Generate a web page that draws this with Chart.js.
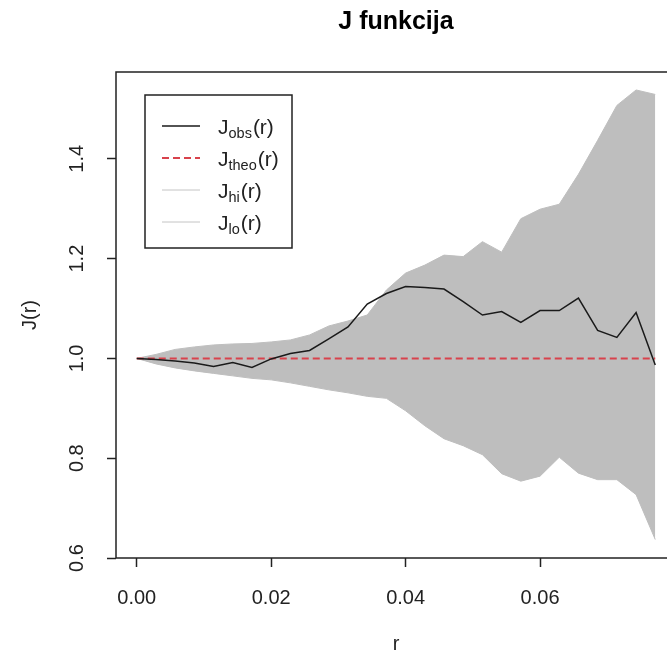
<!DOCTYPE html>
<html>
<head>
<meta charset="utf-8">
<script src="https://cdn.jsdelivr.net/npm/chart.js@4.4.0/dist/chart.umd.min.js"></script>
<style>
body{margin:0;background:#fff;}
#wrap{width:667px;height:654px;overflow:hidden;}
</style>
</head>
<body>
<div id="wrap"><canvas id="jChart" width="700" height="654"></canvas></div>
<script>
// data
var rVals = [0, 0.00286, 0.00571, 0.00857, 0.01143, 0.01429, 0.01714, 0.02, 0.02286, 0.02571,
             0.02857, 0.03143, 0.03429, 0.03714, 0.04, 0.04286, 0.04571, 0.04857, 0.05143, 0.05429,
             0.05714, 0.06, 0.06286, 0.06571, 0.06857, 0.07143, 0.07429, 0.07714];
var jObs = [1.000, 0.998, 0.995, 0.991, 0.984, 0.992, 0.982, 0.999, 1.010, 1.016,
            1.039, 1.063, 1.109, 1.130, 1.144, 1.142, 1.139, 1.114, 1.087, 1.094,
            1.072, 1.096, 1.096, 1.121, 1.056, 1.042, 1.092, 0.987];
var jTheo = [1, 1, 1, 1, 1, 1, 1, 1, 1, 1, 1, 1, 1, 1, 1, 1, 1, 1, 1, 1, 1, 1, 1, 1, 1, 1, 1, 1];
var jHi = [1.000, 1.008, 1.018, 1.023, 1.027, 1.029, 1.030, 1.033, 1.037, 1.047,
           1.065, 1.075, 1.087, 1.137, 1.171, 1.187, 1.207, 1.204, 1.234, 1.213,
           1.280, 1.299, 1.309, 1.369, 1.437, 1.507, 1.538, 1.529];
var jLo = [1.000, 0.989, 0.981, 0.975, 0.970, 0.965, 0.960, 0.957, 0.951, 0.944,
           0.937, 0.931, 0.924, 0.920, 0.895, 0.865, 0.839, 0.825, 0.807, 0.769,
           0.754, 0.764, 0.802, 0.770, 0.757, 0.757, 0.727, 0.637];
var xTicks = [0, 0.02, 0.04, 0.06];
var yTicks = [0.6, 0.8, 1.0, 1.2, 1.4];
var legendSubs = ['obs', 'theo', 'hi', 'lo'];

var FONT = '"Liberation Sans", Arial, sans-serif';
var INK = '#222';
var SHADE = '#bebebe';

function pts(ys){
    return rVals.map((r, i) => ({x: r, y: ys[i]}));
}

// R style frame, rotated y labels and legend
var rLook = {
    id: 'rLook',
    afterLayout(chart){
        var t = chart.titleBlock, a = chart.chartArea;
        if(t){ t.left = a.left; t.right = a.right; }
    },
    afterDraw(chart){
        var ctx = chart.ctx, a = chart.chartArea, ys = chart.scales.y;
        ctx.save();
        ctx.strokeStyle = INK;
        ctx.lineWidth = 1.5;
        ctx.strokeRect(a.left, a.top, a.right - a.left, a.bottom - a.top);

        ctx.fillStyle = INK;
        ctx.font = '20px ' + FONT;
        ctx.textAlign = 'center';
        ctx.textBaseline = 'middle';
        yTicks.forEach(v=>{
            ctx.save();
            ctx.translate(77, ys.getPixelForValue(v));
            ctx.rotate(-Math.PI / 2);
            ctx.fillText(v.toFixed(1), 0, 0);
            ctx.restore();
        });

        //legend
        ctx.fillStyle = '#fff';
        ctx.fillRect(145, 95, 147, 153);
        ctx.strokeStyle = INK;
        ctx.lineWidth = 1.5;
        ctx.strokeRect(145, 95, 147, 153);
        ctx.textAlign = 'left';
        ctx.textBaseline = 'alphabetic';
        chart.data.datasets.forEach((ds, i)=>{
            var y = 126 + i * 32;
            ctx.save();
            ctx.strokeStyle = ds.legendColor || ds.borderColor;
            ctx.lineWidth = ds.borderWidth || 1.2;
            ctx.setLineDash(ds.borderDash || []);
            ctx.beginPath();
            ctx.moveTo(162, y);
            ctx.lineTo(200, y);
            ctx.stroke();
            ctx.restore();
            var x = 218;
            ctx.fillStyle = INK;
            ctx.font = '21px ' + FONT;
            ctx.fillText('J', x, y + 8);
            x += ctx.measureText('J').width;
            ctx.font = '14.5px ' + FONT;
            ctx.fillText(legendSubs[i], x, y + 12);
            x += ctx.measureText(legendSubs[i]).width + 1;
            ctx.font = '21px ' + FONT;
            ctx.fillText('(r)', x, y + 8);
        });
        ctx.restore();
    }
};

var ctx = document.getElementById('jChart').getContext('2d');
var chart = new Chart(ctx, {
    type: 'line',
    data: {
        datasets: [{
            label: 'Jobs(r)',
            data: pts(jObs),
            borderColor: '#1a1a1a',
            borderWidth: 1.5,
            fill: false
        }, {
            label: 'Jtheo(r)',
            data: pts(jTheo),
            borderColor: '#d8424c',
            borderWidth: 2,
            borderDash: [7, 4],
            fill: false
        }, {
            label: 'Jhi(r)',
            data: pts(jHi),
            borderColor: SHADE,
            legendColor: '#c4c4c4',
            borderWidth: 1,
            backgroundColor: SHADE,
            fill: '+1'
        }, {
            label: 'Jlo(r)',
            data: pts(jLo),
            borderColor: SHADE,
            legendColor: '#c4c4c4',
            borderWidth: 1,
            fill: false
        }]
    },
    options: {
        responsive: false,
        animation: false,
        layout: {padding: {left: 0, right: 24, top: 0, bottom: 0}},
        elements: {point: {radius: 0}, line: {tension: 0}},
        plugins: {
            legend: {display: false},
            tooltip: {enabled: false},
            title: {
                display: true,
                text: 'J funkcija',
                color: '#000',
                font: {family: FONT, size: 25, weight: 'bold', lineHeight: 1.2},
                padding: {top: 7.4, bottom: 34.6}
            }
        },
        scales: {
            x: {
                type: 'linear',
                min: -0.003086,
                max: 0.080226,
                afterBuildTicks: s=>{ s.ticks = xTicks.map(v=>({value: v})); },
                afterFit: s=>{ s.height = 96; },
                grid: {drawOnChartArea: false, drawTicks: true, tickLength: 9, tickColor: INK, tickWidth: 1.5},
                border: {display: false},
                ticks: {
                    color: INK,
                    font: {family: FONT, size: 20},
                    padding: 19,
                    maxRotation: 0,
                    callback: v => Number(v).toFixed(2)
                },
                title: {display: true, text: 'r', color: INK, font: {family: FONT, size: 20, lineHeight: 1}, padding: 0}
            },
            y: {
                type: 'linear',
                min: 0.6,
                max: 1.574,
                afterBuildTicks: s=>{ s.ticks = yTicks.map(v=>({value: v})); },
                afterFit: s=>{ s.width = 116; },
                grid: {drawOnChartArea: false, drawTicks: true, tickLength: 9, tickColor: INK, tickWidth: 1.5},
                border: {display: false},
                ticks: {display: false},
                title: {display: true, text: 'J(r)', color: INK, font: {family: FONT, size: 20, lineHeight: 1}, padding: {top: 20, bottom: 0}}
            }
        }
    },
    plugins: [rLook]
});
</script>
</body>
</html>
